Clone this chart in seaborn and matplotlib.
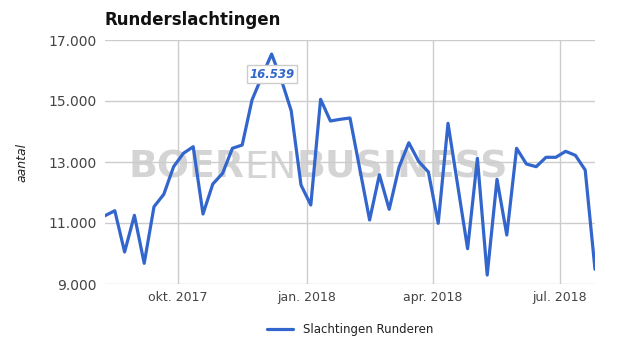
import matplotlib
matplotlib.use("Agg")
import matplotlib.pyplot as plt
import matplotlib.ticker as mticker
import seaborn as sns
import pandas as pd
import numpy as np

start_date = "2017-08-10"
values = [11239, 11403, 10049, 11252, 9678, 11534, 11941, 12846, 13285, 13501,
          11295, 12278, 12629, 13449, 13557, 15033, 15797, 16539, 15688, 14682,
          12245, 11590, 15056, 14344, 14400, 14442, 12770, 11098, 12583, 11449,
          12826, 13632, 13023, 12672, 10990, 14269, 12213, 10157, 13121, 9294,
          12432, 10606, 13449, 12934, 12846, 13154, 13154, 13350, 13219, 12737,
          9481]
series_name = "Slachtingen Runderen"
title = "Runderslachtingen"
y_label = "aantal"
y_ticks = [9000, 11000, 13000, 15000, 17000]
x_tick_dates = ["2017-10-01", "2018-01-01", "2018-04-01", "2018-07-01"]
x_tick_labels = ["okt. 2017", "jan. 2018", "apr. 2018", "jul. 2018"]
peak_label = "16.539"
watermark_parts = ["BOER", "EN", "BUSINESS"]
watermark_weights = ["bold", "normal", "bold"]

dates = pd.date_range(start_date, periods=len(values), freq="7D")
df = pd.DataFrame({"datum": dates, "aantal": values, "reeks": series_name})

sns.set_theme(style="white")
plt.rcParams['font.family'] = ['DejaVu Sans']

W, H = 625, 355
fig = plt.figure(figsize=(W / 100, H / 100), dpi=100)
ax = fig.add_axes([105 / W, 1 - 284 / H, 490 / W, 244 / H])

blue = "#3366CC"
sns.lineplot(data=df, x="datum", y="aantal", hue="reeks", palette=[blue],
             linewidth=2.3, ax=ax, zorder=5)

ax.set_xlim(dates[0], dates[-1])
ax.set_ylim(9000, 17000)
ax.set_yticks(y_ticks)
ax.yaxis.set_major_formatter(mticker.FuncFormatter(lambda v, p: f"{int(v):,}".replace(",", ".")))
ax.set_xticks(pd.to_datetime(x_tick_dates))
ax.set_xticklabels(x_tick_labels)
ax.grid(True, color="#cccccc", linewidth=1.0, zorder=1)
ax.set_axisbelow(True)
for s in ax.spines.values():
    s.set_visible(False)
ax.tick_params(axis="both", length=0, colors="#444444")
ax.tick_params(axis="y", pad=6, labelsize=10)
ax.tick_params(axis="x", pad=5, labelsize=9)
ax.set_xlabel("")
ax.set_ylabel(y_label, fontstyle="italic", fontsize=9, color="#222222", labelpad=14)

# title
fig.text(105 / W, 1 - 20 / H, title, fontsize=12, fontweight="bold",
         color="#111111", ha="left", va="center")

# watermark: pieces on a common baseline, fitted to the reference width
base_px_x, base_px_y, target_w = 128.0, 355 - 178.0, 380.0
wm_texts = [fig.text(0, 0, s, fontweight=w, fontsize=36, color="#d4d4d4",
                     ha="left", va="baseline", zorder=0.5,
                     family=["DejaVu Sans Condensed", "DejaVu Sans"])
            for s, w in zip(watermark_parts, watermark_weights)]
fig.canvas.draw()
r = fig.canvas.get_renderer()
widths = [t.get_window_extent(r).width for t in wm_texts]
scale = target_w / sum(widths)
for t in wm_texts:
    t.set_fontsize(36 * scale)
fig.canvas.draw()
widths = [t.get_window_extent(r).width for t in wm_texts]
xpos = base_px_x
for t, w in zip(wm_texts, widths):
    t.set_position((xpos / W, base_px_y / H))
    xpos += w
# draw watermark behind the axes content (axes background transparent)
ax.patch.set_alpha(0)
for t in wm_texts:
    t.set_zorder(-1)

# peak label
imax = int(np.argmax(values))
ax.annotate(peak_label, xy=(dates[imax], values[imax]), xytext=(0, -14.5),
            textcoords="offset points", ha="center", va="center",
            fontsize=8.5, fontstyle="italic", fontweight="bold", color=blue,
            bbox=dict(boxstyle="square,pad=0.2", fc="white", ec="#cccccc", lw=1),
            zorder=6)

leg = ax.legend(loc="upper center", bbox_to_anchor=(0.5, -0.115), frameon=False,
                fontsize=8.5, handlelength=2.2, ncol=1)
for t in leg.get_texts():
    t.set_color("#222222")

fig.savefig("out.png", dpi=100)
